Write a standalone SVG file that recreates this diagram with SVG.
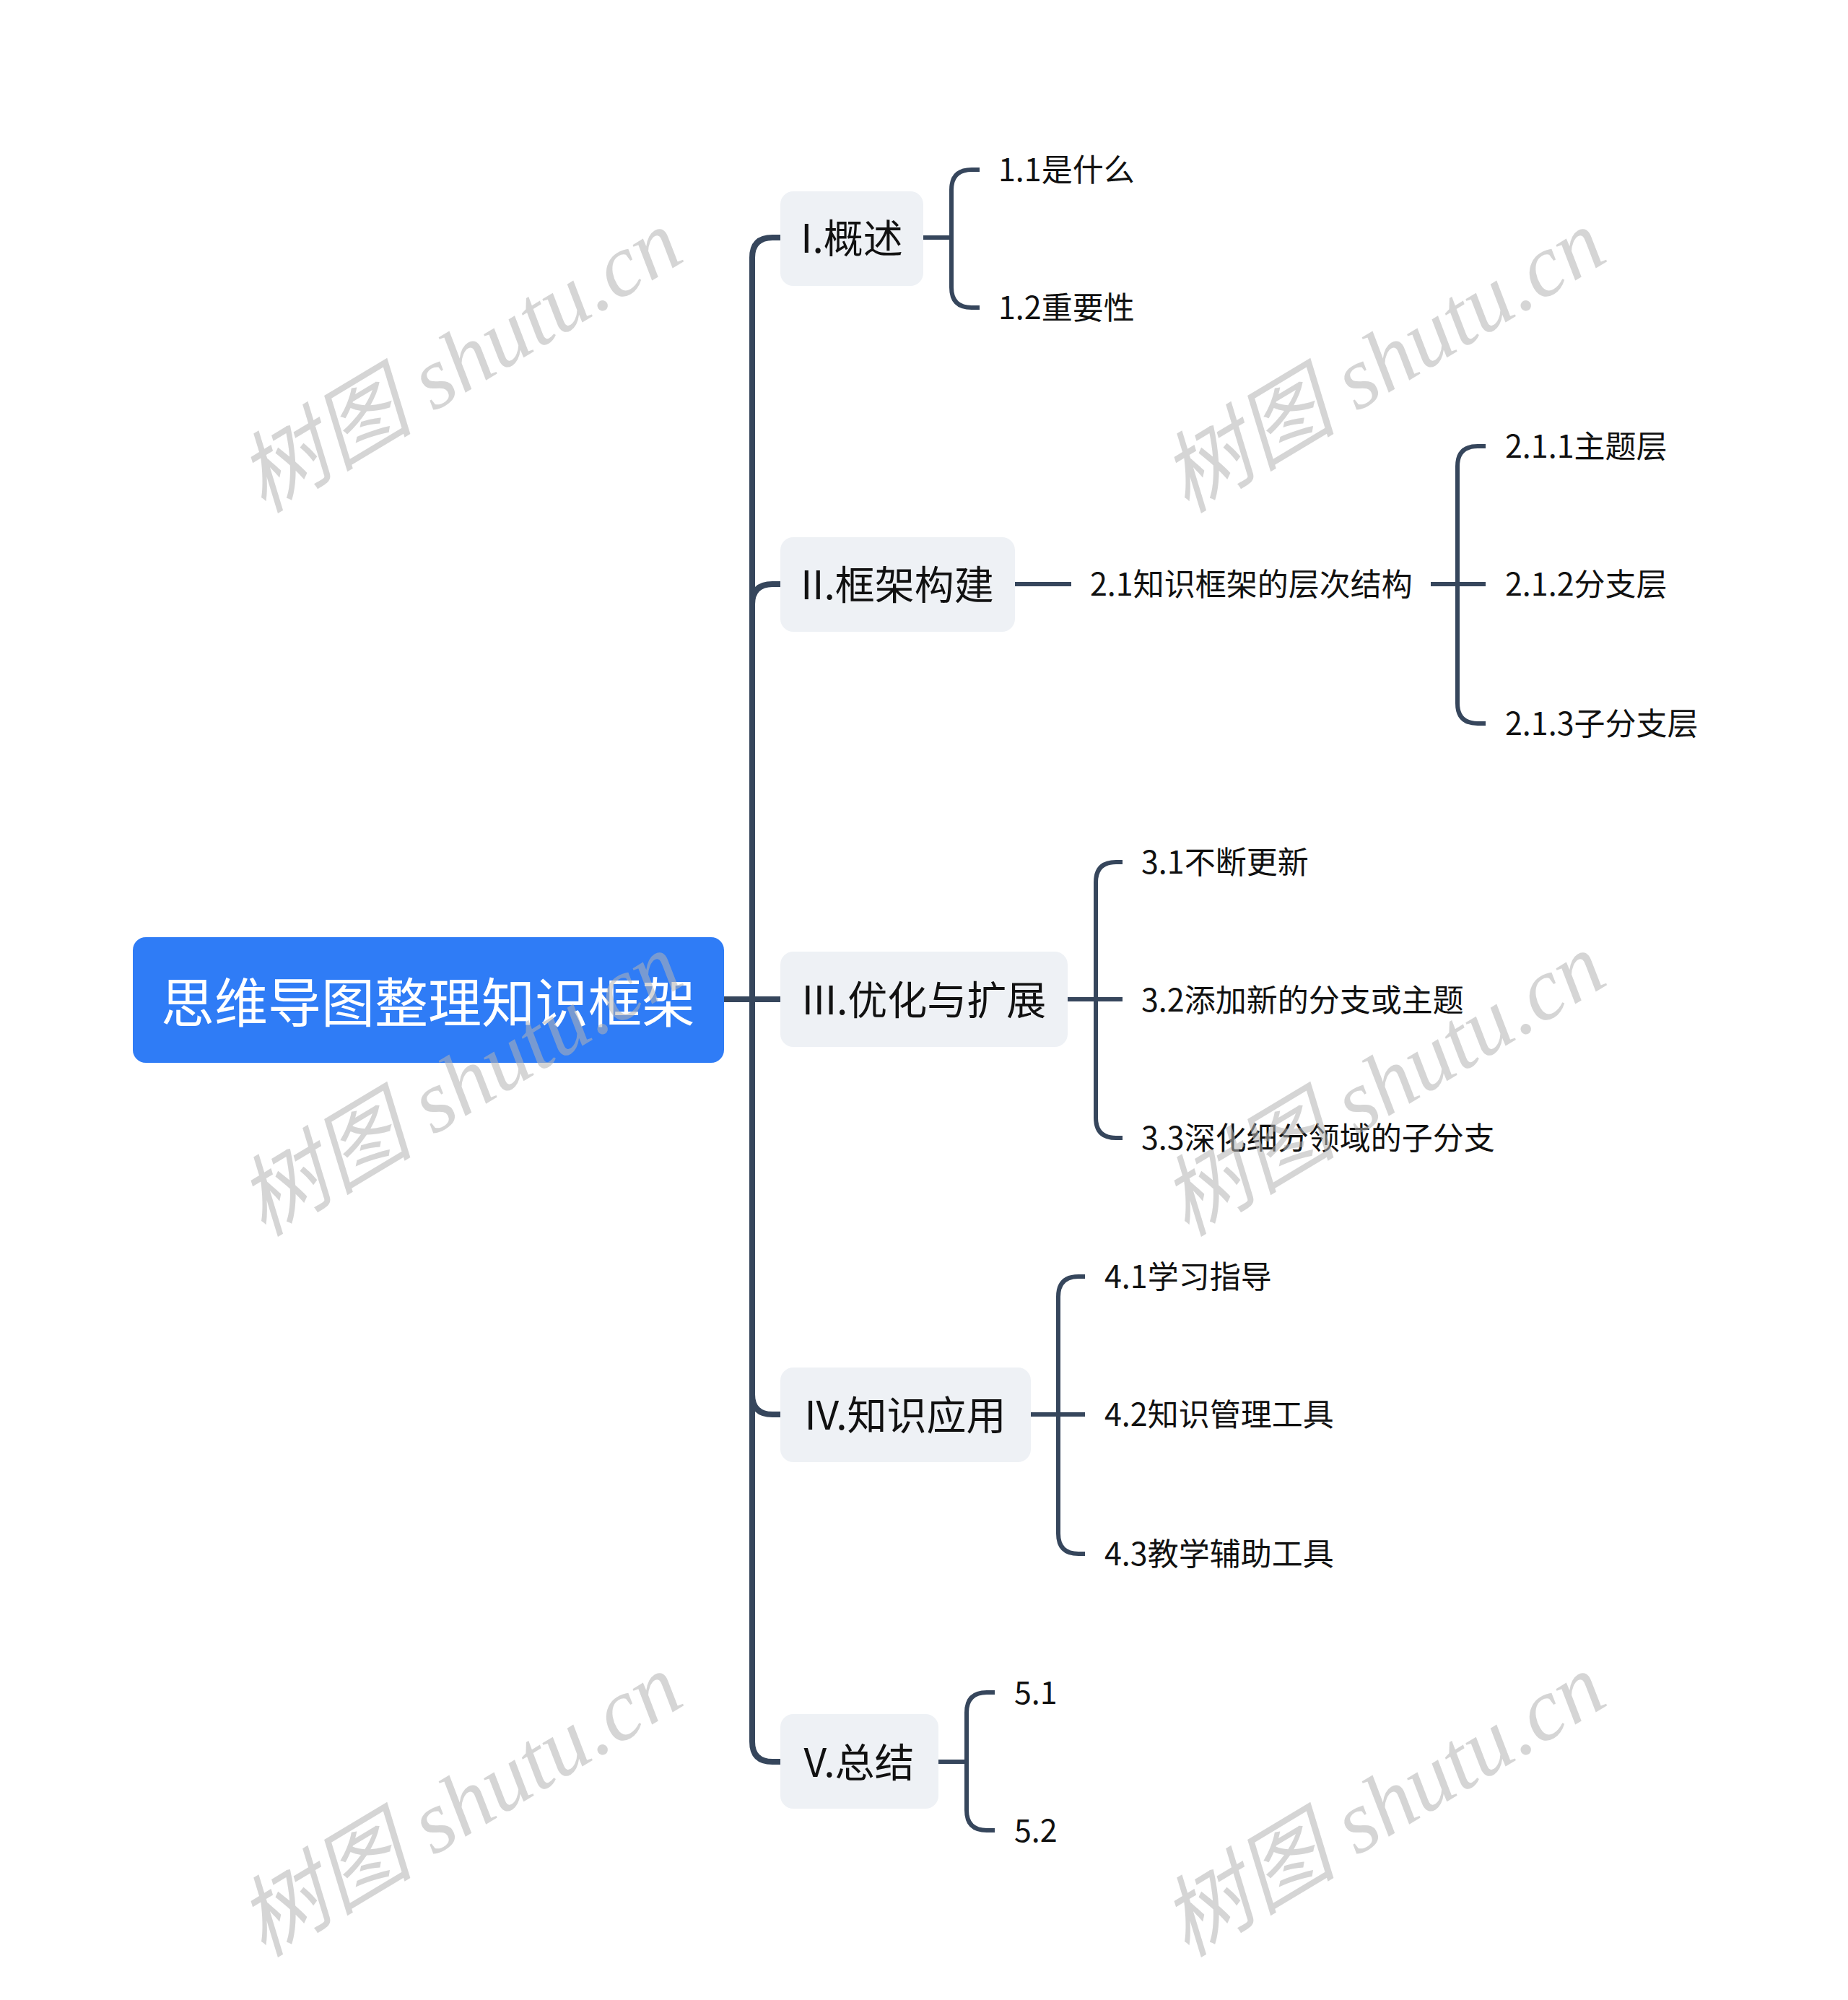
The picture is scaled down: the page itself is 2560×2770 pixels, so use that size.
<svg xmlns="http://www.w3.org/2000/svg" width="2560" height="2770" viewBox="0 0 2560 2770">
<style>
.bg{fill:#ffffff}
.root rect{fill:#2f7cf6}
.root text{fill:#ffffff;font-family:"Noto Sans CJK SC","Noto Sans",sans-serif;font-size:74px;text-anchor:middle;dominant-baseline:central}
.l1 rect{fill:#eef1f5}
.l1 text{fill:#111111;font-family:"Noto Sans CJK SC","Noto Sans",sans-serif;font-size:55px;text-anchor:middle;dominant-baseline:central}
.l2 text{fill:#111111;font-family:"Noto Sans CJK SC","Noto Sans",sans-serif;font-size:43px;dominant-baseline:central}
.c1{fill:none;stroke:#36465c;stroke-width:8;stroke-linecap:butt}
.c2{fill:none;stroke:#36465c;stroke-width:6;stroke-linecap:butt}
.wm{fill:#b4b4b4;opacity:0.55;font-family:"Liberation Serif","Noto Sans CJK SC",serif;font-style:italic;font-size:122px;text-anchor:middle;dominant-baseline:central}
</style>
<rect class="bg" x="0" y="0" width="2560" height="2770"/>
<g id="connectors">
  <path class="c1" d="M1003,1384 H1042 V357 Q1042,329 1070,329 H1081"/>
  <path class="c1" d="M1003,1384 H1042 V837 Q1042,809 1070,809 H1081"/>
  <path class="c1" d="M1003,1384 H1081"/>
  <path class="c1" d="M1003,1384 H1042 V1931 Q1042,1959 1070,1959 H1081"/>
  <path class="c1" d="M1003,1384 H1042 V2412 Q1042,2440 1070,2440 H1081"/>
  <path class="c2" d="M1279,329 H1318 V263 Q1318,235 1346,235 H1357"/>
  <path class="c2" d="M1279,329 H1318 V398 Q1318,426 1346,426 H1357"/>
  <path class="c2" d="M1406,809 H1484"/>
  <path class="c2" d="M1982,809 H2019 V646 Q2019,618 2047,618 H2058"/>
  <path class="c2" d="M1982,809 H2058"/>
  <path class="c2" d="M1982,809 H2019 V974 Q2019,1002 2047,1002 H2058"/>
  <path class="c2" d="M1479,1384 H1518 V1222 Q1518,1194 1546,1194 H1555"/>
  <path class="c2" d="M1479,1384 H1555"/>
  <path class="c2" d="M1479,1384 H1518 V1548 Q1518,1576 1546,1576 H1555"/>
  <path class="c2" d="M1428,1959 H1466 V1796 Q1466,1768 1494,1768 H1503"/>
  <path class="c2" d="M1428,1959 H1503"/>
  <path class="c2" d="M1428,1959 H1466 V2124 Q1466,2152 1494,2152 H1503"/>
  <path class="c2" d="M1300,2440 H1339 V2372 Q1339,2344 1367,2344 H1378"/>
  <path class="c2" d="M1300,2440 H1339 V2507 Q1339,2535 1367,2535 H1378"/>
</g>
<g id="root" class="root">
  <rect x="184" y="1298" width="819" height="174" rx="18"/>
  <text x="593" y="1383">思维导图整理知识框架</text>
</g>
<g id="n1" class="l1"><rect x="1081" y="265" width="198" height="131" rx="18"/><text x="1180" y="326">I.概述</text></g>
<g id="n2" class="l1"><rect x="1081" y="744" width="325" height="131" rx="18"/><text x="1243" y="806">II.框架构建</text></g>
<g id="n3" class="l1"><rect x="1081" y="1318" width="398" height="132" rx="18"/><text x="1280" y="1381">III.优化与扩展</text></g>
<g id="n4" class="l1"><rect x="1081" y="1894" width="347" height="131" rx="18"/><text x="1254" y="1956">IV.知识应用</text></g>
<g id="n5" class="l1"><rect x="1081" y="2374" width="219" height="131" rx="18"/><text x="1190" y="2437">V.总结</text></g>
<g id="n1_1" class="l2"><text x="1383" y="232">1.1是什么</text></g>
<g id="n1_2" class="l2"><text x="1383" y="423">1.2重要性</text></g>
<g id="n2_1" class="l2"><text x="1510" y="806">2.1知识框架的层次结构</text></g>
<g id="n2_1_1" class="l2"><text x="2085" y="615">2.1.1主题层</text></g>
<g id="n2_1_2" class="l2"><text x="2085" y="806">2.1.2分支层</text></g>
<g id="n2_1_3" class="l2"><text x="2085" y="999">2.1.3子分支层</text></g>
<g id="n3_1" class="l2"><text x="1581" y="1191">3.1不断更新</text></g>
<g id="n3_2" class="l2"><text x="1581" y="1382">3.2添加新的分支或主题</text></g>
<g id="n3_3" class="l2"><text x="1581" y="1573">3.3深化细分领域的子分支</text></g>
<g id="n4_1" class="l2"><text x="1530" y="1765">4.1学习指导</text></g>
<g id="n4_2" class="l2"><text x="1530" y="1956">4.2知识管理工具</text></g>
<g id="n4_3" class="l2"><text x="1530" y="2149">4.3教学辅助工具</text></g>
<g id="n5_1" class="l2"><text x="1405" y="2341">5.1</text></g>
<g id="n5_2" class="l2"><text x="1405" y="2532">5.2</text></g>
<g id="watermarks">
  <text class="wm" transform="translate(637,500) rotate(-31)">树图 shutu.cn</text>
  <text class="wm" transform="translate(1916,500) rotate(-31)">树图 shutu.cn</text>
  <text class="wm" transform="translate(637,1502) rotate(-31)">树图 shutu.cn</text>
  <text class="wm" transform="translate(1916,1502) rotate(-31)">树图 shutu.cn</text>
  <text class="wm" transform="translate(637,2500) rotate(-31)">树图 shutu.cn</text>
  <text class="wm" transform="translate(1916,2500) rotate(-31)">树图 shutu.cn</text>
</g>
</svg>
